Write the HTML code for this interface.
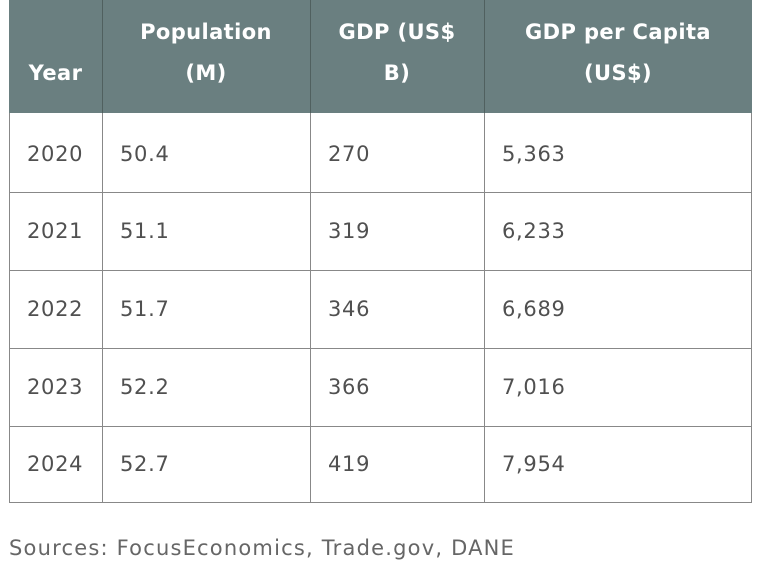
<!DOCTYPE html>
<html><head><meta charset="utf-8"><style>
body{margin:0;width:768px;height:576px;background:#fff;font-family:"DejaVu Sans","Liberation Sans",sans-serif;position:relative;overflow:hidden}
.hdr{position:absolute;left:9px;top:0;width:743px;height:113px;background:#6a7f80}
.c{position:absolute;color:#505050;font-size:21px;letter-spacing:0.7px;line-height:24px}
.h{position:absolute;color:#fff;font-weight:bold;font-size:21px;letter-spacing:0.4px;text-align:center;line-height:41px}
.vl{position:absolute;width:1px;background:#888}
.hl{position:absolute;height:1px;background:#888;left:9px;width:743px}
</style></head><body>
<div class="hdr"></div>
<div class="vl" style="left:102px;top:0;height:113px;background:#50605f"></div>
<div class="vl" style="left:310px;top:0;height:113px;background:#50605f"></div>
<div class="vl" style="left:484px;top:0;height:113px;background:#50605f"></div>
<div class="h" style="left:9px;width:93px;top:53px">Year</div>
<div class="h" style="left:102px;width:208px;top:12px">Population<br>(M)</div>
<div class="h" style="left:310px;width:174px;top:12px">GDP (US$<br>B)</div>
<div class="h" style="left:484px;width:268px;top:12px">GDP per Capita<br>(US$)</div>
<div class="vl" style="left:9px;top:113px;height:390px"></div>
<div class="vl" style="left:102px;top:113px;height:390px"></div>
<div class="vl" style="left:310px;top:113px;height:390px"></div>
<div class="vl" style="left:484px;top:113px;height:390px"></div>
<div class="vl" style="left:751px;top:113px;height:390px"></div>
<div class="hl" style="top:192px"></div>
<div class="hl" style="top:270px"></div>
<div class="hl" style="top:348px"></div>
<div class="hl" style="top:426px"></div>
<div class="hl" style="top:502px"></div>
<div class="c" style="left:9px;top:536px;color:#666;letter-spacing:1.2px">Sources: FocusEconomics, Trade.gov, DANE</div>
<script>
const years=["2020","2021","2022","2023","2024"];
const pop=["50.4","51.1","51.7","52.2","52.7"];
const gdp=["270","319","346","366","419"];
const gdpPc=["5,363","6,233","6,689","7,016","7,954"];
const cols=[[years,27,'year'],[pop,120,'population'],[gdp,328,'gdp'],[gdpPc,502,'gdp-per-capita']];
const tops=[142,219,297,375,452];
years.forEach((y,i)=>{cols.forEach(([arr,x,n])=>{
const d=document.createElement('div');d.className='c';


d.style.left=x+'px';d.style.top=tops[i]+'px';d.textContent=arr[i];
document.body.appendChild(d);});});
</script>
</body></html>
